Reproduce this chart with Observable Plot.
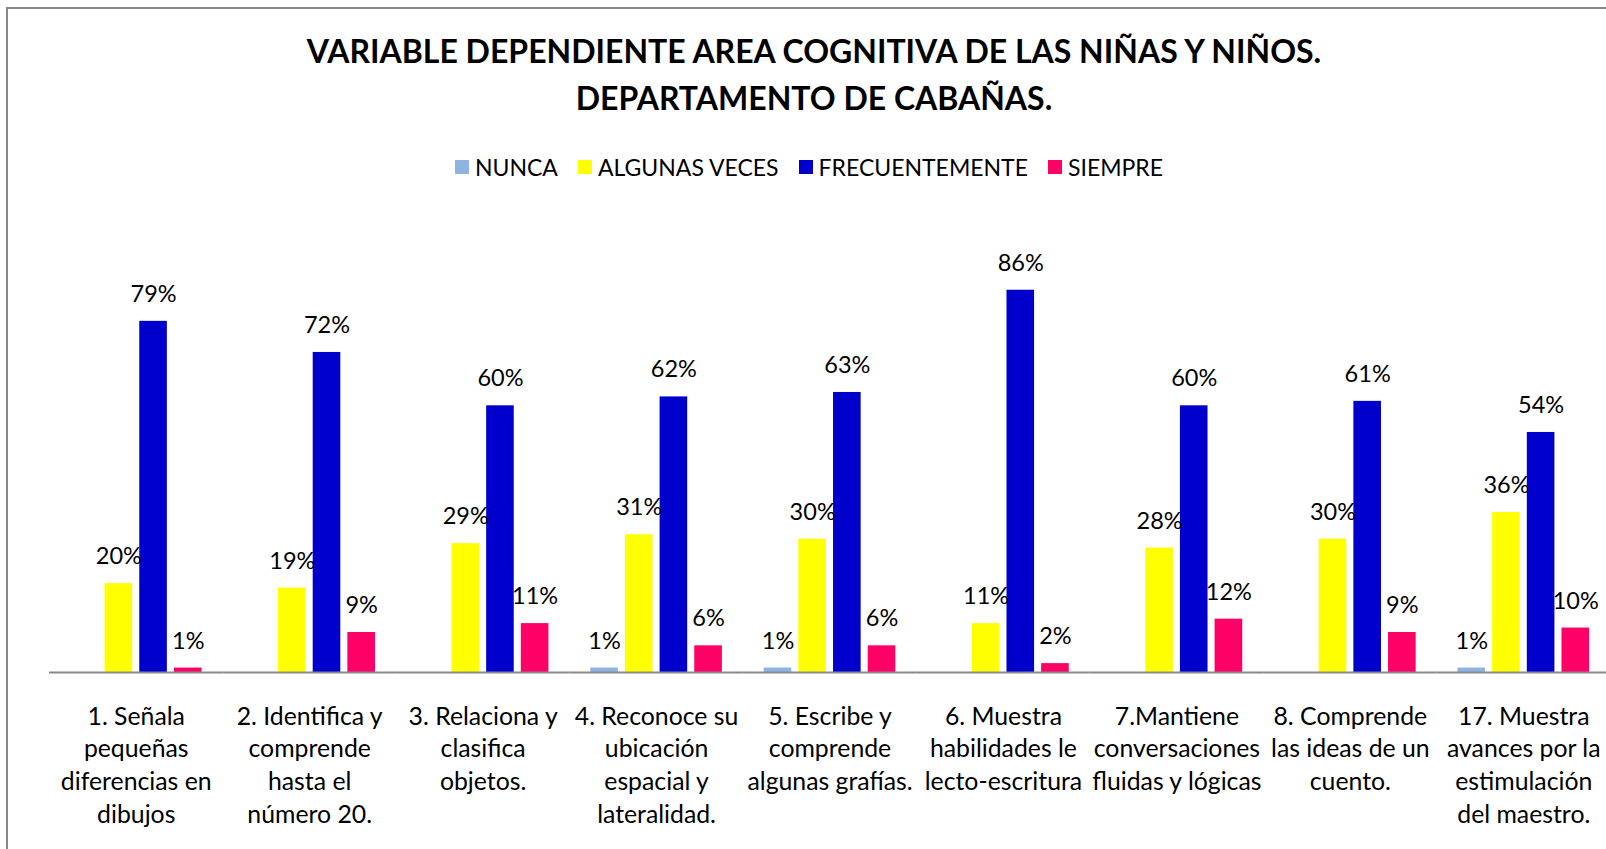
<!DOCTYPE html>
<html><head><meta charset="utf-8">
<script src="https://cdn.jsdelivr.net/npm/d3@7"></script>
<script src="https://cdn.jsdelivr.net/npm/@observablehq/plot@0.6"></script>
<style>
html,body{margin:0;padding:0;background:#fff;overflow:hidden;}
body{width:1606px;height:849px;position:relative;font-family:Lato,sans-serif;color:#000;}
#frame{position:absolute;left:6px;top:7px;width:1700px;height:900px;border-left:2px solid #898989;border-top:2px solid #898989;pointer-events:none;}
#title{position:absolute;left:0;width:1628px;top:27px;text-align:center;font-weight:bold;font-size:32px;line-height:47px;}
#legend{position:absolute;left:0;width:1618px;top:153px;height:28px;display:flex;justify-content:center;align-items:center;gap:20px;font-size:23px;}
.item{display:flex;align-items:center;gap:6px;}
.sw{width:14px;height:14px;display:inline-block;}
#chart{position:absolute;left:0;top:190px;width:1606px;overflow:hidden;}
#chart svg{max-width:none !important;}
</style></head>
<body>
<div id="title"></div>
<div id="legend"></div>
<div id="chart"></div>
<div id="frame"></div>
<script>
const titleLines = ["VARIABLE DEPENDIENTE AREA COGNITIVA DE LAS NIÑAS Y NIÑOS.", "DEPARTAMENTO DE CABAÑAS."];
const categories = [
  "1. Señala\npequeñas\ndiferencias en\ndibujos",
  "2. Identifica y\ncomprende\nhasta el\nnúmero 20.",
  "3. Relaciona y\nclasifica\nobjetos.",
  "4. Reconoce su\nubicación\nespacial y\nlateralidad.",
  "5. Escribe y\ncomprende\nalgunas grafías.",
  "6. Muestra\nhabilidades le\nlecto-escritura",
  "7.Mantiene\nconversaciones\nfluidas y lógicas",
  "8. Comprende\nlas ideas de un\ncuento.",
  "17. Muestra\navances por la\nestimulación\ndel maestro."
];
const series = ["NUNCA", "ALGUNAS VECES", "FRECUENTEMENTE", "SIEMPRE"];
const colors = ["#8DB4E2", "#FFFF00", "#0000CC", "#FF0066"];
const nunca      = [0, 0, 0, 1, 1, 0, 0, 0, 1];
const algunas    = [20, 19, 29, 31, 30, 11, 28, 30, 36];
const frecuente  = [79, 72, 60, 62, 63, 86, 60, 61, 54];
const siempre    = [1, 9, 11, 6, 6, 2, 12, 9, 10];

const valuesBySeries = [nunca, algunas, frecuente, siempre];
const data = [];
categories.forEach((c, i) => series.forEach((s, j) => data.push({cat: c, serie: s, value: valuesBySeries[j][i]})));

document.getElementById("title").innerHTML = titleLines.map(t => `<div>${t}</div>`).join("");
document.getElementById("legend").innerHTML = series.map((s, j) =>
  `<span class="item"><span class="sw" style="background:${colors[j]}"></span><span>${s}</span></span>`).join("");

const chart = Plot.plot({
  width: 1610, height: 659,
  marginLeft: 49, marginRight: 0, marginTop: 37.5, marginBottom: 177,
  fx: {domain: categories, padding: 0, round: false, label: null},
  x: {domain: series, paddingInner: 0.204, paddingOuter: 0.603, round: false, axis: null},
  y: {domain: [0, 100], axis: null},
  color: {domain: series, range: colors},
  style: {fontFamily: "Lato, sans-serif", background: "none", color: "black", overflow: "visible", maxWidth: "none"},
  marks: [
    Plot.barY(data, {fx: "cat", x: "serie", y: "value", fill: "serie"}),
    Plot.ruleY([0], {stroke: "#898989", strokeWidth: 2}),
    Plot.text(data.filter(d => d.value > 0), {fx: "cat", x: "serie", y: "value", text: d => d.value + "%", dy: -27, fontSize: 23.5, fill: "black"}),
    Plot.axisFx({anchor: "bottom", tickSize: 0, tickPadding: 29, fontSize: 24.8, lineHeight: 1.32, label: null, fill: "black"})
  ]
});
document.getElementById("chart").appendChild(chart);
</script>
</body></html>
